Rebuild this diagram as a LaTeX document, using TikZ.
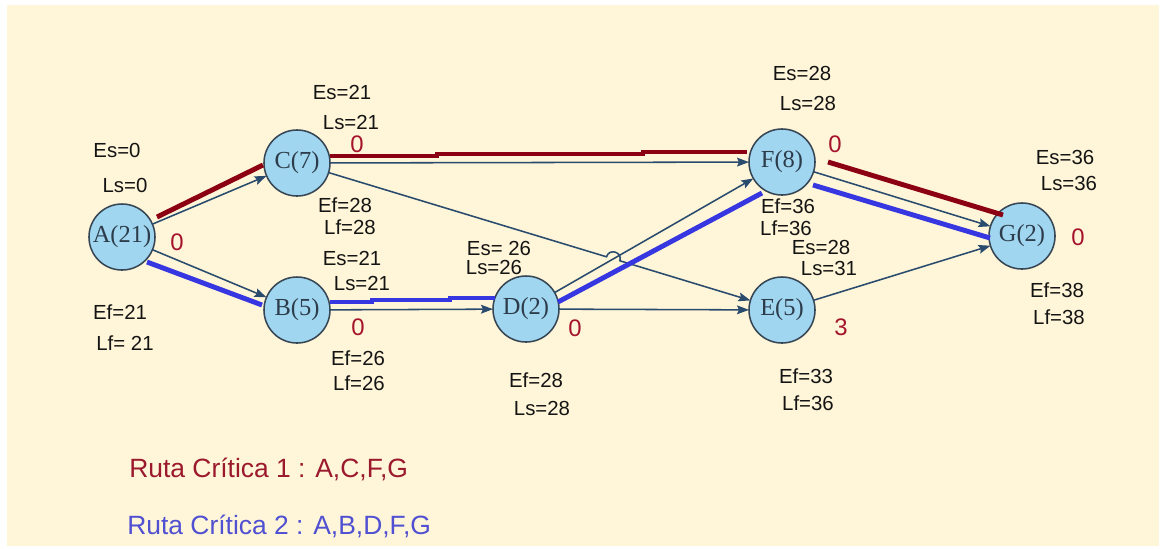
\documentclass[tikz,border=0pt]{standalone}
\usepackage{fontspec}
\setmainfont{Liberation Sans}
\newfontfamily\nodeserif{Liberation Serif}
\usetikzlibrary{arrows.meta,calc}
\definecolor{bgcream}{RGB}{255,245,216}
\definecolor{nodefill}{RGB}{160,214,240}
\definecolor{nodeborder}{RGB}{55,70,85}
\definecolor{arrowcol}{RGB}{40,75,110}
\definecolor{critred}{RGB}{140,0,20}
\definecolor{critblue}{RGB}{55,55,225}
\definecolor{slackred}{RGB}{165,20,45}
\definecolor{legendred}{RGB}{155,25,45}
\definecolor{legendblue}{RGB}{80,80,210}
\definecolor{nodetext}{RGB}{45,60,75}
\begin{document}
\begin{tikzpicture}[x=0.025cm,y=-0.025cm,
 activity/.style={circle,draw=nodeborder,line width=1.1pt,fill=nodefill,minimum size=1.65cm,inner sep=0pt,outer sep=0pt,font=\nodeserif\fontsize{17.4}{20}\selectfont,text=nodetext},
 info/.style={inner sep=0pt,font=\fontsize{14.5}{16}\selectfont,text=black!92},
 slack/.style={inner sep=0pt,font=\fontsize{17}{19}\selectfont,text=slackred},
 legend/.style={inner sep=0pt,anchor=west,font=\fontsize{18.8}{22}\selectfont},
 link/.style={draw=arrowcol,line width=1.1pt,-{Stealth[length=3mm,width=2.2mm,inset=0.5mm]}},
 critA/.style={draw=critred,line width=3.5pt},
 critB/.style={draw=critblue,line width=3.5pt}]
\useasboundingbox (0,0) rectangle (1161,548);
\fill[white] (0,0) rectangle (1161,548);
\fill[bgcream] (7,5) rectangle (1159,546);

% activities
\node[activity] (A) at (122,237) {A(21)};
\node[activity] (C) at (297,163) {C(7)};
\node[activity] (B) at (297,310) {B(5)};
\node[activity] (D) at (526,309) {D(2)};
\node[activity] (E) at (782,310) {E(5)};
\node[activity] (F) at (782,162) {F(8)};
\node[activity] (G) at (1022,236) {G(2)};

% hop coordinates
\coordinate (hopS) at (606.5,256.8);
\coordinate (hopE) at (619.9,260.8);

% connectors
\draw[link] (A) -- (C);
\draw[link] (A) -- (B);
\draw[link] (C) -- (F);
\draw[link] (C) -- (hopS) .. controls (609.2,247.9) and (622.6,251.9) .. (hopE) -- (E);
\draw[link] (B) -- (D);
\draw[link] (D) -- (F);
\draw[link] (D) -- (E);
\draw[link] (F) -- (G);
\draw[link] (E) -- (G);

% critical path 1 (red)
\draw[critA] ($(A)+(35,-20)$) -- ($(C)+(-34,2)$);
\draw[critA] ($(C)+(33,-7)$) -- ++(107,0) -- ++(0,-2) -- ++(206,0) -- ++(0,-2) -- ($(F)+(-35,-10)$);
\draw[critA] ($(F)+(46,0)$) -- ($(G)+(-19,-21)$);

% critical path 2 (blue)
\draw[critB] ($(A)+(25,25)$) -- ($(B)+(-35,-5)$);
\draw[critB] ($(B)+(33,-8)$) -- ++(42,0) -- ++(0,-2) -- ++(78,0) -- ++(0,-2) -- ($(D)+(-31,-11)$);
\draw[critB] ($(D)+(32,-7)$) -- ($(F)+(-20,31)$);
\draw[critB] ($(F)+(31,23)$) -- ($(G)+(-32,2)$);

% labels A
\node[info] (esA) at (117,150) {Es=0};
\node[info] (lsA) at (125,185) {Ls=0};
\node[info] (efA) at (120,312) {Ef=21};
\node[info] (lfA) at (125,343) {Lf= 21};
\node[slack] (slA) at (177,242) {0};
% labels C
\node[info] (esC) at (342,92) {Es=21};
\node[info] (lsC) at (351,122) {Ls=21};
\node[slack] (slC) at (357,144) {0};
\node[info] (efC) at (345,205) {Ef=28};
\node[info] (lfC) at (350,227) {Lf=28};
% labels B
\node[info] (esB) at (352,258) {Es=21};
\node[info] (lsB) at (362,283) {Ls=21};
\node[slack] (slB) at (358,327) {0};
\node[info] (efB) at (358,358) {Ef=26};
\node[info] (lfB) at (359,383) {Lf=26};
% labels D
\node[info] (esD) at (499,248) {Es= 26};
\node[info] (lsD) at (494,267) {Ls=26};
\node[slack] (slD) at (575,328) {0};
\node[info] (efD) at (536,380) {Ef=28};
\node[info] (lfD) at (542,408) {Ls=28};
% labels F
\node[info] (esF) at (802,73) {Es=28};
\node[info] (lsF) at (808,103) {Ls=28};
\node[slack] (slF) at (835,144) {0};
\node[info] (efF) at (788,206) {Ef=36};
\node[info] (lfF) at (786,228) {Lf=36};
% labels E
\node[info] (esE) at (821,247) {Es=28};
\node[info] (lsE) at (829,268) {Ls=31};
\node[slack] (slE) at (841,327) {3};
\node[info] (efE) at (806,376) {Ef=33};
\node[info] (lfE) at (808,403) {Lf=36};
% labels G
\node[info] (esG) at (1065,157) {Es=36};
\node[info] (lsG) at (1069,183) {Ls=36};
\node[slack] (slG) at (1078,237) {0};
\node[info] (efG) at (1057,290) {Ef=38};
\node[info] (lfG) at (1059,317) {Lf=38};

% legend
\node[legend,text=legendred] (leg1) at (129,469) {Ruta Crítica 1 : A,C,F,G};
\node[legend,text=legendblue] (leg2) at (127,526) {Ruta Crítica 2 : A,B,D,F,G};
\end{tikzpicture}
\end{document}
